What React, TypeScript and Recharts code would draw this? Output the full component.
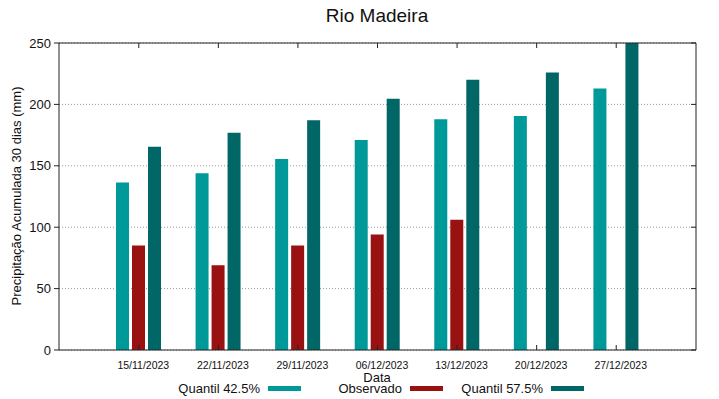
import { BarChart, Bar, XAxis, YAxis, CartesianGrid } from "recharts";

const datas = [
  "15/11/2023",
  "22/11/2023",
  "29/11/2023",
  "06/12/2023",
  "13/12/2023",
  "20/12/2023",
  "27/12/2023",
];
const quantil425 = [136.5, 144, 155.5, 171, 188, 190.5, 213];
const observado: (number | null)[] = [85, 69, 85, 94, 106, null, null];
const quantil575 = [165.5, 177, 187, 204.5, 220, 226, 250];
const yTicks = [0, 50, 100, 150, 200, 250];

const COLORS = ["#009999", "#991111", "#006666"];
const NAMES = ["Quantil 42.5%", "Observado", "Quantil 57.5%"];

// where each legend text ends (px from left)
const LEGEND_END = [260, 402, 543];

const FONT = "'Liberation Sans', Arial, sans-serif";

const data = datas.map((d, i) => ({
  data: d,
  q425: quantil425[i],
  obs: observado[i],
  q575: quantil575[i],
}));

const noTick = () => <g />;

function App() {
  return (
    <div
      style={{
        position: "absolute",
        left: 0,
        top: 0,
        width: 719,
        height: 399,
        fontFamily: FONT,
        color: "#111",
        background: "#fff",
      }}
    >
      <BarChart
        width={719}
        height={399}
        data={data}
        margin={{ top: 42, right: 22, bottom: 29, left: 19 }}
        barSize={13}
        barGap={3}
      >
        <CartesianGrid vertical={false} stroke="#999" strokeDasharray="1 2" />
        <XAxis
          dataKey="data"
          height={20}
          padding={{ left: 40, right: 40 }}
          tickSize={-5}
          tickMargin={17}
          tick={{ fontSize: 10.5, fill: "#111", dx: 4.5, fontFamily: FONT }}
          stroke="#222"
          interval={0}
        />
        <XAxis
          xAxisId="top"
          dataKey="data"
          orientation="top"
          height={1}
          padding={{ left: 40, right: 40 }}
          tickSize={-5}
          tick={noTick}
          stroke="#222"
          interval={0}
        />
        <YAxis
          width={40}
          domain={[0, 250]}
          ticks={yTicks}
          allowDataOverflow
          tickSize={5}
          tickMargin={3}
          tick={{ fontSize: 13, fill: "#111", fontFamily: FONT }}
          stroke="#222"
        />
        <YAxis
          yAxisId="right"
          orientation="right"
          width={1}
          domain={[0, 250]}
          ticks={yTicks}
          allowDataOverflow
          tickSize={-5}
          tick={noTick}
          stroke="#222"
        />
        <Bar dataKey="q425" name={NAMES[0]} fill={COLORS[0]} isAnimationActive={false} />
        <Bar dataKey="obs" name={NAMES[1]} fill={COLORS[1]} isAnimationActive={false} />
        <Bar dataKey="q575" name={NAMES[2]} fill={COLORS[2]} isAnimationActive={false} />
      </BarChart>

      <div
        style={{
          position: "absolute",
          left: 277,
          width: 200,
          top: 4,
          textAlign: "center",
          fontSize: 19,
          lineHeight: "24px",
        }}
      >
        Rio Madeira
      </div>

      <div
        style={{
          position: "absolute",
          left: 17,
          top: 196,
          width: 300,
          marginLeft: -150,
          marginTop: -8,
          textAlign: "center",
          fontSize: 13,
          lineHeight: "16px",
          transform: "rotate(-90deg)",
        }}
      >
        Precipitação Acumulada 30 dias (mm)
      </div>

      <div
        style={{
          position: "absolute",
          left: 327,
          width: 100,
          top: 372,
          textAlign: "center",
          fontSize: 13,
          lineHeight: "12px",
        }}
      >
        Data
      </div>

      {NAMES.map((name, i) => (
        <div key={name}>
          <div
            style={{
              position: "absolute",
              left: LEGEND_END[i] - 150,
              width: 150,
              top: 383,
              textAlign: "right",
              fontSize: 13,
              lineHeight: "12px",
            }}
          >
            {name}
          </div>
          <div
            style={{
              position: "absolute",
              left: LEGEND_END[i] + 8,
              width: 33,
              top: 386,
              height: 5,
              background: COLORS[i],
            }}
          />
        </div>
      ))}
    </div>
  );
}

export default App;
